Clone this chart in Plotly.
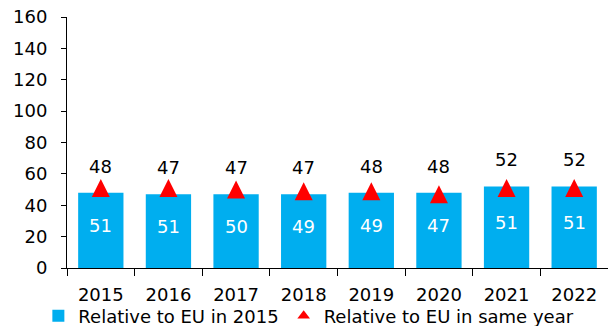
import plotly.graph_objects as go

years = ["2015", "2016", "2017", "2018", "2019", "2020", "2021", "2022"]
rel_eu_2015 = [48, 47, 47, 47, 48, 48, 52, 52]
rel_eu_same_year = [51, 51, 50, 49, 49, 47, 51, 51]

BLUE = "#00AEEF"
RED = "#FF0000"
FONT = "DejaVu Sans"
FS = 18

fig = go.Figure()
fig.add_trace(go.Bar(
    x=years, y=rel_eu_2015, name="Relative to EU in 2015",
    marker=dict(color=BLUE, line=dict(width=0)),
    hoverinfo="skip",
))
# tall isosceles triangles centred on the value: a down-arrow shifted by
# half its height, then turned to point upwards
fig.add_trace(go.Scatter(
    x=years, y=rel_eu_same_year, name="Relative to EU in same year",
    mode="markers", showlegend=False,
    marker=dict(symbol="arrow-down", angle=180, standoff=9, color=RED,
                size=18, line=dict(width=0)),
))
fig.add_trace(go.Scatter(
    x=[None], y=[None], name="Relative to EU in same year",
    mode="markers",
    marker=dict(symbol="triangle-up", color=RED, size=11, line=dict(width=0)),
))

# value labels: bar value above, same-year value inside the bar
for i, (v, s) in enumerate(zip(rel_eu_2015, rel_eu_same_year)):
    fig.add_annotation(x=i, y=v, xref="x", yref="y", text=str(v),
                       showarrow=False, yanchor="bottom", yshift=14,
                       font=dict(size=FS, color="black", family=FONT))
    fig.add_annotation(x=i, y=v / 2, xref="x", yref="y", text=str(s),
                       showarrow=False, yanchor="middle", yshift=5,
                       font=dict(size=FS, color="white", family=FONT))

fig.update_layout(
    width=608, height=326,
    margin=dict(l=67, r=0, t=17, b=58),
    plot_bgcolor="white", paper_bgcolor="white",
    font=dict(family=FONT, size=FS, color="black"),
    bargap=0.33,
    showlegend=True,
    legend=dict(orientation="h", xref="container", yref="container",
                x=0.508, xanchor="center", y=10 / 326, yanchor="middle",
                bgcolor="rgba(0,0,0,0)",
                font=dict(size=FS), itemwidth=30, tracegroupgap=0,
                traceorder="normal"),
    xaxis=dict(type="category", range=[-0.5, len(years) - 0.5],
               showline=True, linecolor="black", linewidth=1,
               ticks="outside", ticklen=7, tickcolor="black",
               tickson="boundaries", ticklabelstandoff=10, automargin=False),
    yaxis=dict(range=[0, 160], dtick=20, showline=True, linecolor="black",
               linewidth=1, ticks="outside", ticklen=5, tickcolor="black",
               showgrid=False, zeroline=False, ticklabelstandoff=10,
               automargin=False),
)

fig.write_html("out.html")
